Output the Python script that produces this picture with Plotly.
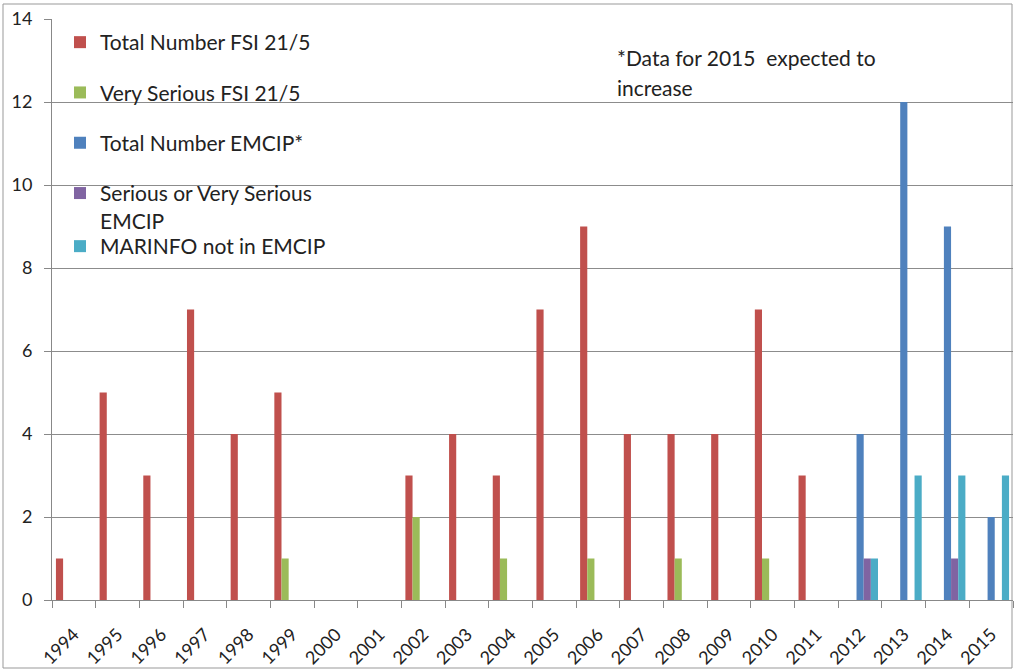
import plotly.graph_objects as go

years = [str(y) for y in range(1994, 2016)]
total_fsi = [1, 5, 3, 7, 4, 5, 0, 0, 3, 4, 3, 7, 9, 4, 4, 4, 7, 3, None, None, None, None]
very_serious_fsi = [None, None, None, None, None, 1, None, None, 2, None, 1, None, 1, None, 1, None, 1, None, None, None, None, None]
total_emcip = [None] * 18 + [4, 12, 9, 2]
serious_emcip = [None] * 18 + [1, None, 1, None]
marinfo = [None] * 18 + [1, 3, 3, 3]

series = [
    ("Total Number FSI 21/5", total_fsi, "#C0504D", "legend"),
    ("Very Serious FSI 21/5", very_serious_fsi, "#9BBB59", "legend"),
    ("Total Number EMCIP*", total_emcip, "#4F81BD", "legend"),
    ("Serious or Very Serious<br>EMCIP", serious_emcip, "#8064A2", "legend"),
    ("MARINFO not in EMCIP", marinfo, "#4BACC6", "legend2"),
]

FONT = "Lato, 'Liberation Sans', sans-serif"
TXT = "#222"
fig = go.Figure()
for i, (name, vals, color, lg) in enumerate(series):
    fig.add_trace(go.Bar(x=years, y=vals, name=name, marker_color=color,
                         marker_line_width=0, legendgroup=f"g{i}", legend=lg))

W, H = 1014, 671
L, R, T, B = 52, 1, 19, 71
pw = W - L - R
ph = H - T - B

def px_x(p):
    return (p - L) / pw

def px_y(p):
    return (H - B - p) / ph

fig.update_layout(
    width=W, height=H,
    margin=dict(l=L, r=R, t=T, b=B),
    paper_bgcolor="white", plot_bgcolor="white",
    font=dict(family=FONT, size=18, color=TXT),
    barmode="group", bargap=0.18, bargroupgap=0,
    legend=dict(x=px_x(60), y=px_y(22), xanchor="left", yanchor="top",
                font=dict(size=21, family=FONT, color=TXT),
                tracegroupgap=20, valign="top", bgcolor="rgba(0,0,0,0)"),
    legend2=dict(x=px_x(60), y=px_y(226), xanchor="left", yanchor="top",
                 font=dict(size=21, family=FONT, color=TXT),
                 bgcolor="rgba(0,0,0,0)"),
    xaxis=dict(type="category", tickangle=-45, tickson="boundaries",
               ticks="outside", ticklen=7, tickcolor="#888",
               showline=True, linecolor="#888", linewidth=1,
               ticklabelstandoff=16,
               tickfont=dict(size=18, family=FONT, color=TXT),
               showgrid=False, range=[-0.5, 21.5], automargin=False),
    yaxis=dict(range=[0, 14], dtick=2, showgrid=True, gridcolor="#8c8c8c",
               gridwidth=1, showline=True, linecolor="#888", ticks="outside",
               ticklen=7, tickcolor="#888", zeroline=False, automargin=False,
               ticklabelstandoff=8,
               tickfont=dict(size=18, family=FONT, color=TXT)),
    annotations=[
        dict(text="*Data for 2015  expected to", x=px_x(615), y=px_y(57),
             xref="paper", yref="paper", xanchor="left", yanchor="middle",
             showarrow=False, font=dict(size=21, family=FONT, color=TXT)),
        dict(text="increase", x=px_x(615), y=px_y(87),
             xref="paper", yref="paper", xanchor="left", yanchor="middle",
             showarrow=False, font=dict(size=21, family=FONT, color=TXT)),
    ],
    shapes=[dict(type="rect", xref="paper", yref="paper",
                 x0=px_x(3), x1=px_x(1012), y0=px_y(668), y1=px_y(4),
                 line=dict(color="#999", width=1), layer="below")],
)

fig.write_html("out.html", config={"displayModeBar": False},
               post_script="document.body.style.margin='0';document.body.style.padding='0';")
